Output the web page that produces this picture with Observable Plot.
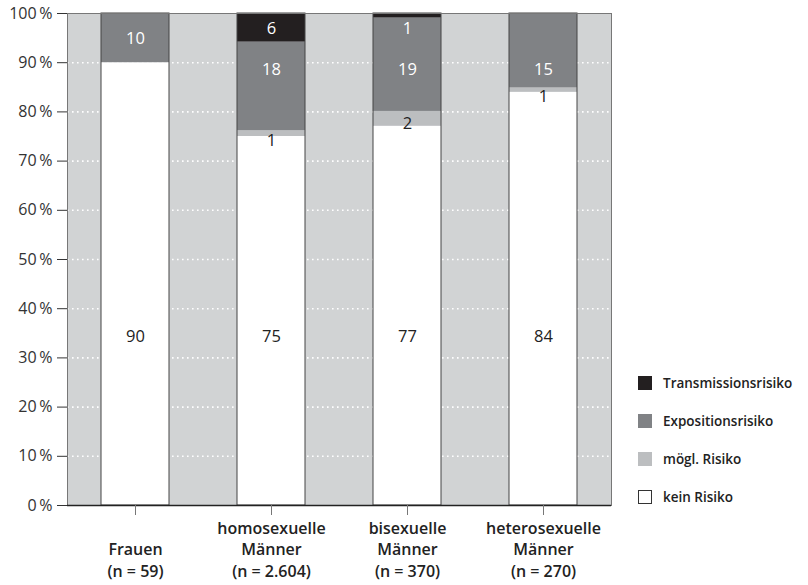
<!DOCTYPE html>
<html><head><meta charset="utf-8">
<script src="https://cdn.jsdelivr.net/npm/d3@7"></script>
<script src="https://cdn.jsdelivr.net/npm/@observablehq/plot@0.6"></script>
<style>
body{margin:0;background:#fff;font-family:"Open Sans",sans-serif;}
#wrap{position:relative;width:808px;height:585px;}
#legend{position:absolute;left:638px;top:364px;}
.item{display:flex;align-items:center;height:38px;font-weight:600;font-size:13.5px;color:#222;}
.sw{width:14px;height:14px;margin-right:11px;box-sizing:border-box;}
</style></head><body><div id="wrap"><div id="chart"></div><div id="legend"></div></div>
<script>
const groups = ["Frauen", "homosexuelle Männer", "bisexuelle Männer", "heterosexuelle Männer"];
const groupLabels = ["Frauen\n(n = 59)", "homosexuelle\nMänner\n(n = 2.604)", "bisexuelle\nMänner\n(n = 370)", "heterosexuelle\nMänner\n(n = 270)"];
const categories = ["kein Risiko", "mögl. Risiko", "Expositionsrisiko", "Transmissionsrisiko"];
const colors = ["#ffffff", "#bcbec0", "#808285", "#231f20"];
const keinRisiko = [90, 75, 77.1, 84];
const moeglRisiko = [0, 1.2, 3, 0.9];
const expositionsrisiko = [10, 18, 19, 15.1];
const transmissionsrisiko = [0, 5.8, 0.9, 0];
const keinText = ["90", "75", "77", "84"];
const moeglText = [null, "1", "2", "1"];
const expoText = ["10", "18", "19", "15"];
const transText = [null, "6", "1", null];
const keinAt = [34.3, 34.3, 34.3, 34.3];
const moeglAt = [null, 74.2, 77.6, 83];
const expoAt = [94.9, 88.5, 88.5, 88.5];
const transAt = [null, 97, 97, null];
const yTicks = [0, 10, 20, 30, 40, 50, 60, 70, 80, 90, 100];

const series = [keinRisiko, moeglRisiko, expositionsrisiko, transmissionsrisiko];
const rows = [];
groups.forEach((g, i) => categories.forEach((c, j) => rows.push({group: g, category: c, value: series[j][i]})));
const texts = [[keinText, keinAt, "#222"], [moeglText, moeglAt, "#222"], [expoText, expoAt, "#fff"], [transText, transAt, "#fff"]];
const labels = [];
texts.forEach(([t, at, col]) => groups.forEach((g, i) => { if (t[i] != null) labels.push({group: g, text: t[i], y: at[i], color: col}); }));

const chart = Plot.plot({
  width: 808, height: 585,
  marginLeft: 67, marginRight: 197, marginTop: 13, marginBottom: 80,
  style: {fontFamily: "'Open Sans', sans-serif", background: "#fff"},
  x: {domain: groups, paddingInner: 0.5, paddingOuter: 0.25, label: null},
  y: {domain: [0, 100], label: null},
  color: {domain: categories, range: colors},
  marks: [
    Plot.frame({fill: "#d1d3d4", stroke: null}),
    Plot.gridY(yTicks.filter(d => d > 0 && d < 100), {stroke: "#fff", strokeOpacity: 1, strokeWidth: 1.6, strokeDasharray: "1.6,3.4"}),
    Plot.barY(rows, {x: "group", y: "value", fill: "category", order: categories, inset: 0}),
    Plot.barY(groups, {x: d => d, y1: 0, y2: 100, fill: "none", stroke: "#444", strokeWidth: 1, inset: 0}),
    Plot.frame({stroke: "#777"}),
    Plot.ruleX([0], {x: () => groups[0], stroke: "none"}),
    Plot.ruleY([0], {stroke: "#222", strokeWidth: 1.5}),
    Plot.axisY({ticks: yTicks, tickFormat: d => d + "\u2009%", tickSize: 10, tickPadding: 5, fontSize: 16, fill: "#333", stroke: "#333"}),
    Plot.axisX({tickSize: 10, stroke: "#777", tickFormat: () => ""}),
    Plot.axisX({tickSize: 0, tickPadding: 71, lineAnchor: "bottom", lineHeight: 1.32, fontSize: 16, fontWeight: 600, fill: "#222", tickFormat: (d, i) => groupLabels[groups.indexOf(d)]}),
    Plot.text(labels, {x: "group", y: "y", text: "text", fill: "color", fontSize: 16.5})
  ]
});
document.getElementById("chart").appendChild(chart);
const lg = document.getElementById("legend");
[3, 2, 1, 0].forEach(j => {
  const it = document.createElement("div"); it.className = "item";
  const sw = document.createElement("div"); sw.className = "sw";
  sw.style.background = colors[j];
  if (j === 0) sw.style.border = "1px solid #333";
  it.appendChild(sw);
  const t = document.createElement("span"); t.textContent = categories[j];
  it.appendChild(t); lg.appendChild(it);
});
</script></body></html>
